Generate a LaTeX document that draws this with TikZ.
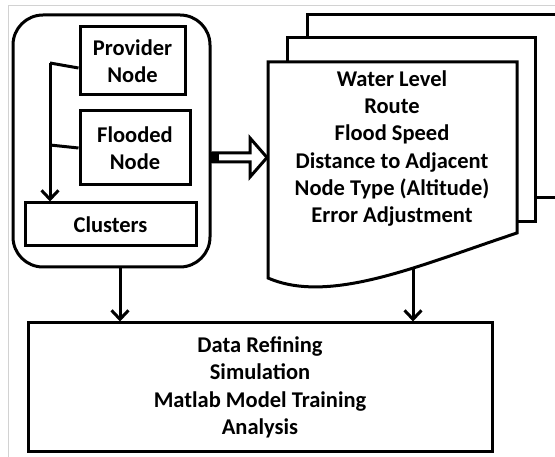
\documentclass[tikz,border=0pt]{standalone}
\usepackage{fontspec}
\setmainfont{Carlito}
\usetikzlibrary{arrows.meta,positioning}
\tikzset{
  box/.style={draw, line width=3pt, fill=white, align=center, inner sep=0pt,
    font=\bfseries\fontsize{22.5}{27.5}\selectfont},
  label/.style={align=center, font=\bfseries\fontsize{22.5}{27.2}\selectfont},
  wire/.style={line width=3pt},
  flow/.style={line width=3pt, -{Straight Barb[length=9pt,width=17pt,line width=3pt]}},
}
\begin{document}
\begin{tikzpicture}[x=1pt, y=-1pt, line join=miter]
    \useasboundingbox (0,0) rectangle (555,457);
    \draw[gray!35, line width=1pt] (8,457) -- (8,6) -- (555,6);
    % left group
    \node[box, rounded corners=30pt, minimum width=197pt, minimum height=252pt] (grp) at (111.5,141) {};
    \node[box, minimum width=105pt, minimum height=68pt] (prov) at (132.5,61) {Provider\\Node};
    \node[box, minimum width=110pt, minimum height=74pt] (flood) at (135,148) {Flooded\\Node};
    \node[box, minimum width=171pt, minimum height=43pt] (clu) at (110.5,224.5) {Clusters};
    \coordinate (top) at (50,63);
    \draw[wire] ([yshift=-7pt]prov.west) -- (top);
    \draw[wire] (flood.west) -- ([yshift=3pt]top |- flood.west);
    \draw[flow] (top) -- (top |- clu.north);
    % block arrow
    \draw[wire, fill=white] (213,153) -- (250,153) -- (250,138) -- (267,157.5) -- (250,177) -- (250,162) -- (213,162) -- cycle;
    \fill (211,152) rectangle (219,163);
    % document stack
    \draw[wire, fill=white] (307,15) rectangle (580,198);
    \draw[wire, fill=white] (287,38) rectangle (535,222);
    \draw[wire, fill=white] (268,278) -- (268,62) -- (517,62) -- (517,233)
      .. controls (420,265) and (330,305) .. (268,278) -- cycle;
    \node[label] (param) at (392,148.5) {Water Level\\Route\\Flood Speed\\Distance to Adjacent\\Node Type (Altitude)\\Error Adjustment};
    % result
    \node[box, minimum width=464pt, minimum height=129pt] (res) at (260,387.5) {Data Refining\\Simulation\\Matlab Model Training\\Analysis};
    \coordinate (grpout) at (120,267);
    \coordinate (docout) at (413,268);
    \draw[flow] (grpout) -- (grpout |- res.north);
    \draw[flow] (docout) -- (docout |- res.north);
\end{tikzpicture}
\end{document}
